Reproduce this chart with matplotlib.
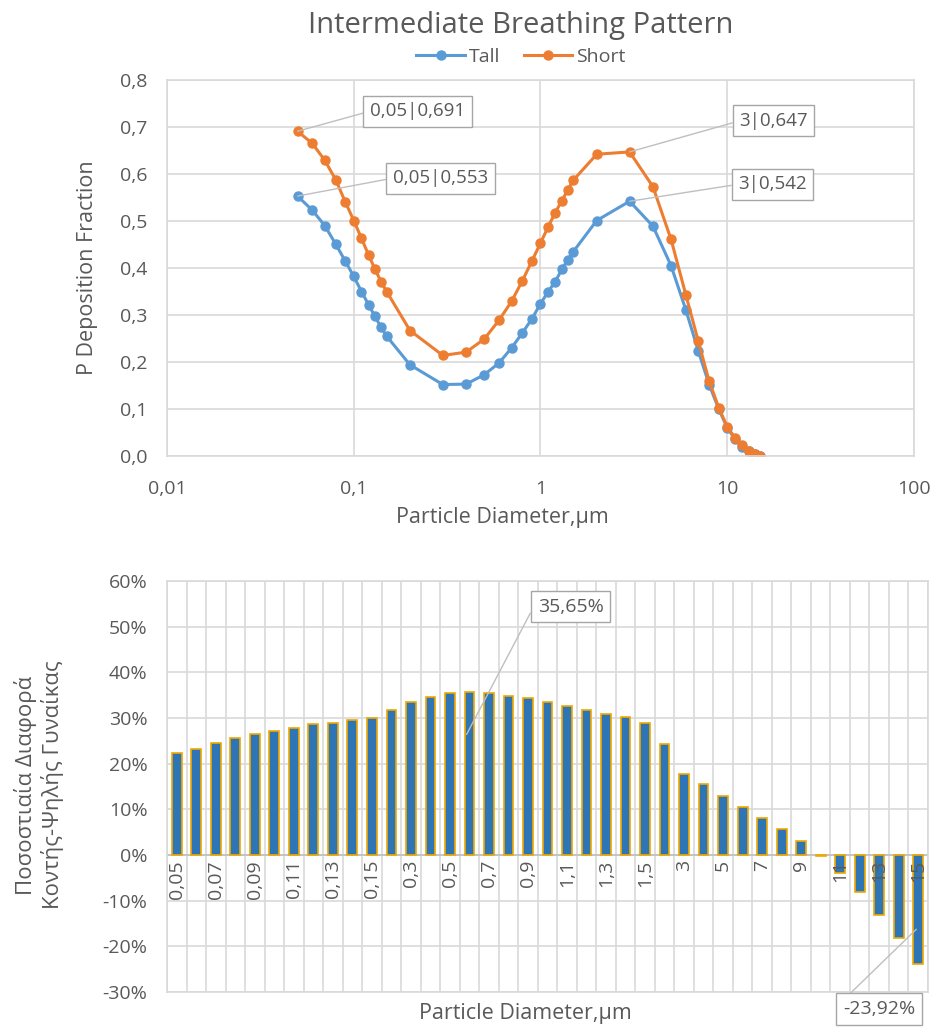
import numpy as np
import matplotlib
matplotlib.use("Agg")
import matplotlib.pyplot as plt
from matplotlib import transforms

plt.rcParams["font.family"] = ["Open Sans", "Noto Sans", "DejaVu Sans"]

# particle diameters (um), shared by both charts
diameters = [0.05, 0.06, 0.07, 0.08, 0.09, 0.1, 0.11, 0.12, 0.13, 0.14, 0.15,
             0.2, 0.3, 0.4, 0.5, 0.6, 0.7, 0.8, 0.9, 1, 1.1, 1.2, 1.3, 1.4, 1.5,
             2, 3, 4, 5, 6, 7, 8, 9, 10, 11, 12, 13, 14, 15]

tall = [0.553, 0.523, 0.490, 0.451, 0.415, 0.382, 0.350, 0.322, 0.297, 0.274,
        0.255, 0.194, 0.152, 0.153, 0.173, 0.198, 0.230, 0.262, 0.292, 0.324,
        0.350, 0.371, 0.397, 0.417, 0.435, 0.501, 0.542, 0.489, 0.405, 0.311,
        0.223, 0.152, 0.100, 0.060, 0.036, 0.020, 0.010, 0.004, 0.001]

short = [0.691, 0.665, 0.629, 0.588, 0.541, 0.501, 0.463, 0.428, 0.397, 0.371,
         0.350, 0.267, 0.214, 0.221, 0.249, 0.289, 0.329, 0.373, 0.415, 0.453,
         0.488, 0.518, 0.543, 0.566, 0.587, 0.642, 0.647, 0.573, 0.461, 0.343,
         0.244, 0.159, 0.103, 0.062, 0.039, 0.023, 0.011, 0.004, 0.001]

# percent difference short vs tall woman
diff_pct = [22.3, 23.3, 24.5, 25.7, 26.5, 27.2, 27.9, 28.7, 28.9, 29.6, 30.1,
            31.7, 33.5, 34.7, 35.4, 35.65, 35.4, 34.9, 34.3, 33.4, 32.6, 31.7,
            30.9, 30.2, 28.9, 24.2, 17.7, 15.6, 12.9, 10.5, 8.0, 5.6, 3.1,
            -0.3, -4.0, -8.0, -13.1, -18.2, -23.92]

BLUE = "#5B9BD5"
ORANGE = "#ED7D31"
GRID = "#D9D9D9"
TXT = "#595959"


def comma(v):
    return ("%g" % v).replace(".", ",")


fig = plt.figure(figsize=(9.37, 10.27), dpi=100)

# ---------- top chart ----------
ax1 = fig.add_axes([167 / 937, 1 - 456 / 1027, 747 / 937, 376 / 1027])
ax1.plot(diameters, tall, "-o", color=BLUE, lw=2.2, ms=6.5, label="Tall")
ax1.plot(diameters, short, "-o", color=ORANGE, lw=2.2, ms=6.5, label="Short")
ax1.set_xscale("log")
ax1.set_xlim(0.01, 100)
ax1.set_ylim(0, 0.8)
ax1.set_xticks([0.01, 0.1, 1, 10, 100])
ax1.set_xticklabels([comma(v) for v in [0.01, 0.1, 1, 10, 100]])
ax1.xaxis.set_minor_locator(matplotlib.ticker.NullLocator())
yt = np.round(np.arange(0, 0.81, 0.1), 1)
ax1.set_yticks(yt)
ax1.set_yticklabels([("%.1f" % v).replace(".", ",") for v in yt])
ax1.grid(True, color=GRID, lw=1.2)
ax1.set_axisbelow(True)
ax1.tick_params(length=0, labelsize=14, colors=TXT)
ax1.tick_params(axis="x", pad=17)
ax1.tick_params(axis="y", pad=14)
for s in ax1.spines.values():
    s.set_color(GRID)
    s.set_linewidth(1.2)
ax1.set_xlabel("Particle Diameter,μm", fontsize=15.5, color=TXT)
ax1.xaxis.label.set_va("center")
ax1.xaxis.set_label_coords((502 - 167) / 747, (456 - 517) / 376)
ax1.set_ylabel("P Deposition Fraction", fontsize=15.5, color=TXT)
ax1.yaxis.label.set_va("center")
ax1.yaxis.set_label_coords((88 - 167) / 747, 0.5)

box = dict(boxstyle="square,pad=0.35", fc="white", ec="#A6A6A6", lw=1)
line = dict(arrowstyle="-", color="#BFBFBF", lw=1, shrinkA=0, shrinkB=0)
for xv, series, off in [(0.05, short, (120, 20)), (0.05, tall, (143, 18)),
                        (3, short, (144, 31)), (3, tall, (143, 17))]:
    yv = series[diameters.index(xv)]
    lbl = "%s|%s" % (comma(xv), ("%.3f" % yv).replace(".", ","))
    ax1.annotate(lbl, xy=(xv, yv), xytext=off, textcoords="offset pixels",
                 ha="center", va="center", fontsize=13.5, color=TXT,
                 bbox=box, arrowprops=dict(line, relpos=(0, 0.5)))

fig.text(521 / 937, 1 - 25 / 1027, "Intermediate Breathing Pattern",
         ha="center", va="center", fontsize=21, color=TXT)
fig.legend(loc="center", bbox_to_anchor=(521 / 937, 1 - 57 / 1027), ncol=2,
           frameon=False, fontsize=14, labelcolor=TXT, handlelength=2.5,
           columnspacing=1.2, handletextpad=0.2)

# ---------- bottom chart ----------
ax2 = fig.add_axes([167 / 937, 1 - 992 / 1027, 761 / 937, 411 / 1027])
idx = np.arange(len(diameters))
ax2.bar(idx, diff_pct, width=0.5, color="#2E75B6", edgecolor="#F0A800",
        lw=1.2, zorder=3)
ax2.set_xlim(-0.5, len(diameters) - 0.5)
ax2.set_ylim(-30, 60)
ax2.set_yticks(np.arange(-30, 61, 10))
ax2.set_yticklabels(["%d%%" % v for v in np.arange(-30, 61, 10)])
ax2.set_xticks([])
ax2.set_xticks(np.arange(-0.5, len(diameters), 1), minor=True)
ax2.grid(True, which="minor", axis="x", color=GRID, lw=1.2)
ax2.grid(True, which="major", axis="y", color=GRID, lw=1.2)
ax2.axhline(0, color="#BFBFBF", lw=1.2, zorder=2)
ax2.set_axisbelow(True)
ax2.tick_params(which="both", length=0, labelsize=14, colors=TXT, pad=14)
for s in ax2.spines.values():
    s.set_color(GRID)
    s.set_linewidth(1.2)

off = transforms.offset_copy(ax2.transData, fig=fig, x=0, y=-5, units="dots")
for i in idx[::2]:
    ax2.text(i, 0, comma(diameters[i]), rotation=90, ha="center", va="top",
             fontsize=14, color=TXT, transform=off, zorder=4)

ax2.set_xlabel("Particle Diameter,μm", fontsize=15.5, color=TXT)
ax2.xaxis.label.set_va("center")
ax2.xaxis.set_label_coords((525 - 167) / 761, (992 - 1013) / 411)
ax2.set_ylabel("Ποσοστιαία Διαφορά\nΚοντής-Ψηλής Γυναίκας", fontsize=16,
               color=TXT, linespacing=1.25)
ax2.yaxis.label.set_va("center")
ax2.yaxis.set_label_coords((39 - 167) / 761, (992 - 785) / 411)

imax = int(np.argmax(diff_pct))
imin = int(np.argmin(diff_pct))
ax2.annotate(("%.2f%%" % diff_pct[imax]).replace(".", ","),
             xy=(imax - 0.15, diff_pct[imax] * 0.74), xytext=(104, 128),
             textcoords="offset pixels", ha="center", va="center",
             fontsize=14, color=TXT, bbox=box,
             arrowprops=dict(line, relpos=(0, 0.9)))
ax2.annotate(("%.2f%%" % diff_pct[imin]).replace(".", ","),
             xy=(imin - 0.1, diff_pct[imin] * 0.68), xytext=(-37, -80),
             textcoords="offset pixels", ha="center", va="center",
             fontsize=14, color=TXT, bbox=box,
             arrowprops=dict(line, relpos=(0, 1.0)))

fig.savefig("out.png", dpi=100)
